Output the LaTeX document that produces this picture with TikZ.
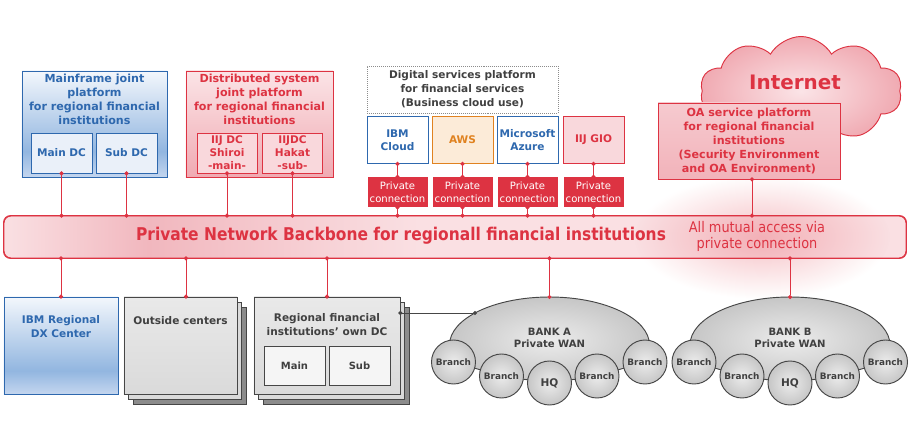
\documentclass[tikz,border=0pt]{standalone}
\usepackage{fontspec}
\setmainfont{DejaVu Sans}
\newfontfamily\narrowfont{DejaVu Sans}[FakeStretch=0.88]
\usepackage{tikz}
\usetikzlibrary{arrows.meta, shapes.symbols, fadings, positioning}
\usepackage{xcolor}

\definecolor{NetRed}{RGB}{221,51,66}
\definecolor{NetBlue}{RGB}{46,104,174}
\definecolor{BlueTop}{RGB}{243,247,252}
\definecolor{BlueMid}{RGB}{146,182,224}
\definecolor{BlueBot}{RGB}{196,214,239}
\definecolor{BlueSub}{RGB}{234,240,249}
\definecolor{PinkTop}{RGB}{251,228,231}
\definecolor{PinkBot}{RGB}{240,170,178}
\definecolor{PinkLight}{RGB}{250,224,227}
\definecolor{PinkDeep}{RGB}{241,183,190}
\definecolor{PinkSub}{RGB}{249,216,220}
\definecolor{GlowRed}{RGB}{236,128,138}
\definecolor{AwsOrange}{RGB}{224,130,32}
\definecolor{AwsFill}{RGB}{252,235,216}
\definecolor{GrayText}{RGB}{64,64,64}
\definecolor{GrayLine}{RGB}{70,70,70}
\definecolor{GrayTop}{RGB}{233,233,233}
\definecolor{GrayBot}{RGB}{218,218,218}
\definecolor{GrayDark}{RGB}{140,140,140}
\definecolor{WanLight}{RGB}{236,236,236}
\definecolor{WanDark}{RGB}{198,198,198}

\pgfdeclareverticalshading{bluepanel}{100bp}{%
  color(0bp)=(BlueBot); color(25bp)=(BlueBot); color(37bp)=(BlueMid);
  color(75bp)=(BlueTop); color(100bp)=(BlueTop)}
\pgfdeclarehorizontalshading{backbonepanel}{100bp}{%
  color(0bp)=(PinkLight); color(25bp)=(PinkLight); color(33bp)=(PinkDeep);
  color(48bp)=(PinkLight); color(75bp)=(PinkLight); color(100bp)=(PinkLight)}
\tikzfading[name=glowfade, inner color=transparent!50, outer color=transparent!100]

\tikzset{
  titletext/.style={align=center, inner sep=0pt, font=\fontsize{9.5}{11.9}\selectfont\bfseries},
  bluebox/.style={draw=NetBlue, line width=0.8pt, shade, shading=bluepanel},
  pinkbox/.style={draw=NetRed, line width=0.8pt, top color=PinkTop, bottom color=PinkBot},
  subblue/.style={draw=NetBlue, line width=0.8pt, fill=BlueSub, text=NetBlue, align=center,
    minimum width=1.83cm, minimum height=1.2cm, font=\fontsize{9}{11}\selectfont\bfseries},
  subpink/.style={draw=NetRed, line width=0.8pt, fill=PinkSub, text=NetRed, align=center,
    minimum width=1.8cm, minimum height=1.2cm, inner sep=1pt, font=\fontsize{9}{11}\selectfont\bfseries},
  cloudbox/.style={line width=0.8pt, minimum width=1.83cm, minimum height=1.41cm, inner sep=1pt,
    align=center, font=\fontsize{9}{11.5}\selectfont\bfseries},
  privconn/.style={fill=NetRed, text=white, minimum width=1.8cm, minimum height=0.9cm, inner sep=0pt,
    align=center, font=\fontsize{8.6}{11}\selectfont},
  redlink/.style={draw=NetRed, line width=0.8pt, arrows={Circle[length=3.5pt]-Circle[length=3.5pt]},
    shorten <=-1.75pt, shorten >=-1.75pt},
  blacklink/.style={draw=GrayLine, line width=0.8pt, arrows={Circle[length=3.5pt]-Circle[length=3.5pt]},
    shorten <=-1.75pt, shorten >=-1.75pt},
  grayface/.style={draw=GrayLine, line width=0.8pt, top color=GrayTop, bottom color=GrayBot},
  graymid/.style={draw=GrayLine, line width=0.8pt, fill=GrayBot},
  grayback/.style={draw=GrayLine, line width=0.8pt, fill=GrayDark},
  graysub/.style={draw=GrayLine, line width=0.8pt, fill=white!96!black, text=GrayText,
    minimum width=1.83cm, minimum height=1.17cm, font=\fontsize{8.5}{10}\selectfont\bfseries},
  wanface/.style={draw=GrayLine, line width=0.8pt, inner color=WanLight, outer color=WanDark},
  branchnode/.style={circle, draw=GrayLine, line width=0.8pt, inner color=WanLight, outer color=WanDark,
    minimum size=1.32cm, inner sep=0pt, text=GrayText, font=\fontsize{7.6}{9}\selectfont\bfseries},
  hqnode/.style={branchnode, font=\fontsize{9}{10}\selectfont\bfseries},
  wantext/.style={align=center, text=GrayText, font=\fontsize{8.6}{10.2}\selectfont\bfseries}
}

\begin{document}
\begin{tikzpicture}[x=0.03cm, y=-0.03cm]
  \useasboundingbox (0,0) rectangle (910,447);

  % internet cloud, behind the OA platform
  \node[cloud, cloud puffs=10, cloud puff arc=120, aspect=1.9, draw=NetRed, line width=0.8pt,
        inner color=PinkTop, outer color=PinkBot, minimum width=6.05cm, minimum height=3.27cm]
    (internet) at (801,91) {};
  \node[text=NetRed, font=\fontsize{17}{20}\selectfont\bfseries] (internetlabel) at (795,82) {Internet};

  % backbone
  \node[draw=NetRed, line width=0.8pt, rounded corners=6pt, shade, shading=backbonepanel,
        minimum width=27.06cm, minimum height=1.26cm] (backbone) at (455,237) {};
  \fill[GlowRed, path fading=glowfade] (762,237) ellipse [x radius=128, y radius=62];
  \draw[NetRed, line width=0.8pt, rounded corners=6pt] (backbone.south west) rectangle (backbone.north east);
  \node[text=NetRed, font=\narrowfont\fontsize{15}{18}\selectfont\bfseries] (backbonetitle) at (401,236)
    {Private Network Backbone for regionall financial institutions};
  \node[text=NetRed, align=center, font=\narrowfont\fontsize{12.5}{13.6}\selectfont] (mutual) at (757,236)
    {All mutual access via\\private connection};

  % mainframe joint platform
  \node[bluebox, minimum width=4.35cm, minimum height=3.18cm] (mainframe) at (94.5,124) {};
  \node[titletext, text=NetBlue, below=3pt of mainframe.north] (mainframetitle)
    {Mainframe joint\\platform\\for regional financial\\institutions};
  \node[subblue] (mainDC) at (61.5,153) {Main DC};
  \node[subblue] (subDC) at (126.5,153) {Sub DC};

  % distributed system joint platform
  \node[pinkbox, minimum width=4.41cm, minimum height=3.18cm] (distributed) at (259.5,124) {};
  \node[titletext, text=NetRed, below=3pt of distributed.north] (distributedtitle)
    {Distributed system\\joint platform\\for regional financial\\institutions};
  \node[subpink] (iijShiroi) at (227,153) {IIJ DC\\Shiroi\\-main-};
  \node[subpink] (iijHakata) at (292.5,153) {IIJDC\\Hakat\\-sub-};

  % digital services platform
  \node[draw=GrayDark, densely dotted, line width=0.7pt, minimum width=5.73cm, minimum height=1.41cm,
        align=center, text=GrayText, font=\fontsize{9}{11.9}\selectfont\bfseries] (digital) at (462.5,89.5)
    {Digital services platform\\for financial services\\(Business cloud use)};
  \node[cloudbox, draw=NetBlue, fill=white, text=NetBlue] (ibmcloud) at (397.5,140) {IBM\\Cloud};
  \node[cloudbox, draw=AwsOrange, fill=AwsFill, text=AwsOrange] (aws) at (462.5,140) {AWS};
  \node[cloudbox, draw=NetBlue, fill=white, text=NetBlue] (azure) at (527.5,140) {Microsoft\\Azure};
  \node[cloudbox, draw=NetRed, fill=PinkSub, text=NetRed] (iijgio) at (593.5,140) {IIJ GIO};

  % OA service platform
  \node[draw=NetRed, line width=0.8pt, top color=PinkTop!55!PinkBot, bottom color=PinkBot!85!PinkTop,
        minimum width=5.46cm, minimum height=2.28cm, align=center, text=NetRed,
        font=\fontsize{9.5}{11.9}\selectfont\bfseries] (oa) at (749,141)
    {OA service platform\\for regional financial\\institutions\\(Security Environment\\and OA Environment)};

  % IBM regional DX center
  \node[bluebox, minimum width=3.42cm, minimum height=2.91cm] (dxcenter) at (61,345.5) {};
  \node[titletext, text=NetBlue, font=\fontsize{9}{11.9}\selectfont\bfseries] (dxtitle) at (61,327)
    {IBM Regional\\DX Center};

  % outside centers
  \node[grayback, minimum width=3.39cm, minimum height=2.91cm] (outside-back) at (189.5,355.5) {};
  \node[graymid, minimum width=3.39cm, minimum height=2.91cm] (outside-mid) at (185,351) {};
  \node[grayface, minimum width=3.39cm, minimum height=2.91cm] (outside) at (180.5,345.5) {};
  \node[titletext, text=GrayText, font=\fontsize{9}{11.9}\selectfont\bfseries] (outsidetitle) at (180.5,321)
    {Outside centers};
  \coordinate (outsidejoin) at ([xshift=0.165cm]outside.north);

  % regional financial institutions' own DC
  \node[grayback, minimum width=4.38cm, minimum height=2.91cm] (owndc-back) at (336,355.5) {};
  \node[graymid, minimum width=4.38cm, minimum height=2.91cm] (owndc-mid) at (331.5,351) {};
  \node[grayface, minimum width=4.38cm, minimum height=2.91cm] (owndc) at (327,345.5) {};
  \node[titletext, text=GrayText, font=\fontsize{9}{11.9}\selectfont\bfseries] (owndctitle) at (327,325)
    {Regional financial\\institutions’ own DC};
  \node[graysub] (ownmain) at (294.5,365.5) {Main};
  \node[graysub] (ownsub) at (359.5,365.5) {Sub};

  % bank WANs
  \foreach \bx/\nm in {0/A, 240.5/B} {
    \draw[wanface] ({449.5+\bx},345) arc[start angle=180, end angle=360, x radius=100, y radius=48]
      -- ({645+\bx},362) -- ({597+\bx},376) -- ({549.5+\bx},383) -- ({501.5+\bx},376) -- ({453.5+\bx},362) -- cycle;
    \foreach \cx/\cy/\lbl/\st [count=\i] in {453.5/362/Branch/branchnode, 501.5/376/Branch/branchnode,
        549.5/383/HQ/hqnode, 597/376/Branch/branchnode, 645/362/Branch/branchnode}
      \node[\st] (bank\nm\i) at ({\cx+\bx},\cy) {\lbl};
    \node[wantext] (bank\nm) at ({549.5+\bx},338) {BANK \nm\\Private WAN};
    \coordinate (top\nm) at ({549.5+\bx},297);
  }
  \coordinate (bankAjoin) at (475,313);

  % connections above the backbone
  \foreach \src in {mainDC, subDC, iijShiroi, iijHakata}
    \draw[redlink] (\src.south) -- (\src.south |- backbone.north);
  \draw[redlink] ([xshift=0.09cm]oa.south) -- ([xshift=0.09cm]oa.south |- backbone.north);
  \foreach \src in {ibmcloud, aws, azure, iijgio} {
    \node[privconn, below=0.39cm of \src] (\src-conn) {Private\\connection};
    \draw[redlink] (\src.south) -- (\src-conn.north);
    \draw[redlink] (\src-conn.south) -- (\src-conn.south |- backbone.north);
  }

  % connections below the backbone
  \draw[redlink] (backbone.south -| dxcenter.north) -- (dxcenter.north);
  \draw[redlink] (backbone.south -| outsidejoin) -- (outsidejoin);
  \draw[redlink] (backbone.south -| owndc.north) -- (owndc.north);
  \draw[redlink] (backbone.south -| topA) -- (topA);
  \draw[redlink] (backbone.south -| topB) -- (topB);
  \draw[blacklink] (owndc.east |- bankAjoin) -- (bankAjoin);
\end{tikzpicture}
\end{document}
